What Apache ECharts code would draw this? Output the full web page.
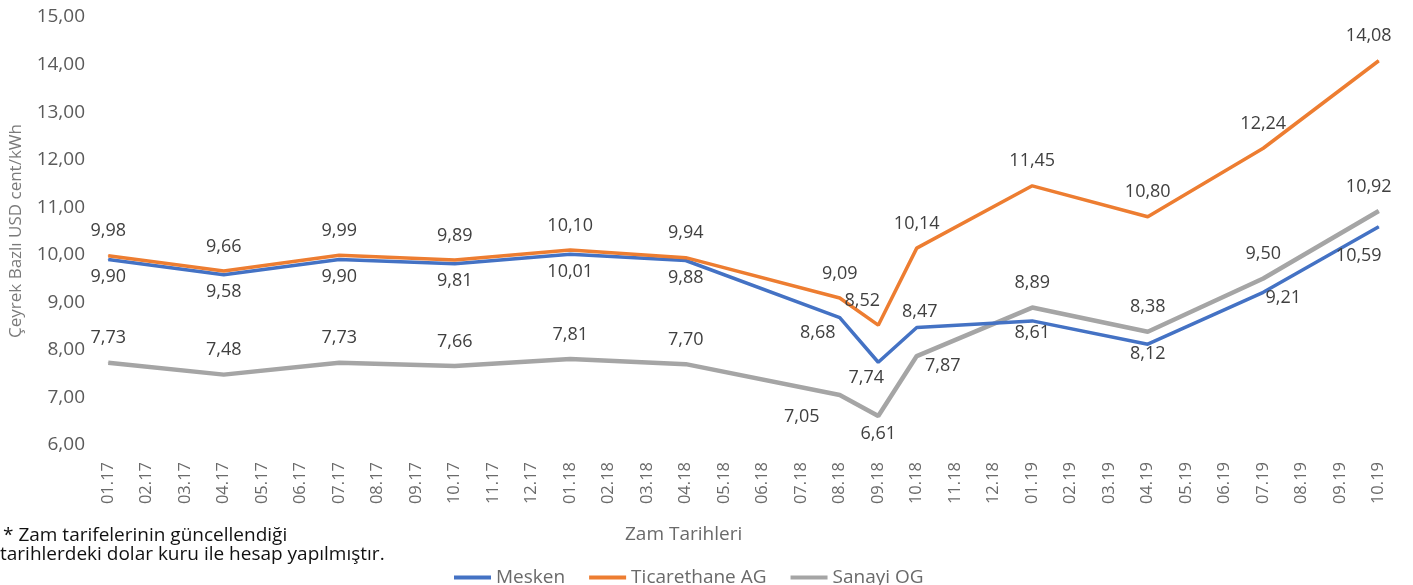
<!DOCTYPE html>
<html><head><meta charset="utf-8">
<script src="https://cdn.jsdelivr.net/npm/echarts@6/dist/echarts.min.js"></script>
<style>html,body{margin:0;padding:0;background:#fff}#c{width:1413px;height:585px}</style>
</head><body><div id="c"></div>
<script>
const categories = ['01.17','02.17','03.17','04.17','05.17','06.17','07.17','08.17','09.17','10.17','11.17','12.17',
  '01.18','02.18','03.18','04.18','05.18','06.18','07.18','08.18','09.18','10.18','11.18','12.18',
  '01.19','02.19','03.19','04.19','05.19','06.19','07.19','08.19','09.19','10.19'];
const mesken = [9.90,null,null,9.58,null,null,9.90,null,null,9.81,null,null,
  10.01,null,null,9.88,null,null,null,8.68,7.74,8.47,null,null,
  8.61,null,null,8.12,null,null,9.21,null,null,10.59];
const ticarethane = [9.98,null,null,9.66,null,null,9.99,null,null,9.89,null,null,
  10.10,null,null,9.94,null,null,null,9.09,8.52,10.14,null,null,
  11.45,null,null,10.80,null,null,12.24,null,null,14.08];
const sanayi = [7.73,null,null,7.48,null,null,7.73,null,null,7.66,null,null,
  7.81,null,null,7.70,null,null,null,7.05,6.61,7.87,null,null,
  8.89,null,null,8.38,null,null,9.50,null,null,10.92];
const yTicks = {min: 6, max: 15, interval: 1};

// label placement tweaks (style only)
const labelTweaks = {
  mesken: {19: {position: 'bottom', offset: [-22, -2]}, 20: {position: 'bottom', offset: [-12, -2]},
           21: {position: 'top', distance: 6, offset: [3, 0]}, 24: {position: 'bottom', distance: 2},
           27: {position: 'bottom', distance: 0}, 30: {position: 'bottom', distance: 0, offset: [20, -4]},
           33: {position: 'bottom', distance: 20, offset: [-20, 0]}},
  ticarethane: {20: {position: 'top', offset: [-16, 0]}, 33: {position: 'top', offset: [-10, 0]}},
  sanayi: {19: {position: 'bottom', distance: 12, offset: [-38, 0]}, 20: {position: 'bottom', distance: 8},
           21: {position: 'bottom', distance: 2, offset: [26, -2]}, 33: {position: 'top', offset: [-10, 0]}}
};

const fmt = v => v.toFixed(2).replace('.', ',');
function build(arr, key) {
  return arr.map((v, i) => {
    if (v === null) return null;
    const t = labelTweaks[key][i];
    return t ? {value: v, label: t} : v;
  });
}
const FONT = 'Open Sans';
const labelBase = (pos, dist) => ({show: true, position: pos, distance: dist, color: '#404040',
  fontFamily: FONT, fontSize: 18, formatter: p => fmt(p.value)});

const chart = echarts.init(document.getElementById('c'), null, {renderer: 'canvas'});
chart.setOption({
  animation: false,
  textStyle: {fontFamily: FONT},
  grid: {left: 89, right: 15, top: 17, bottom: 140, containLabel: false},
  xAxis: {
    type: 'category', data: categories, boundaryGap: true,
    axisLine: {show: false}, axisTick: {show: false},
    axisLabel: {rotate: 90, interval: 0, color: '#6a6a6a', fontSize: 16.5, fontFamily: FONT, margin: 17}
  },
  yAxis: {
    type: 'value', min: yTicks.min, max: yTicks.max, interval: yTicks.interval,
    name: 'Çeyrek Bazlı USD cent/kWh', nameLocation: 'middle', nameGap: 64,
    nameTextStyle: {color: '#7a7a7a', fontSize: 17, fontFamily: FONT},
    axisLine: {show: false}, axisTick: {show: false}, splitLine: {show: false},
    axisLabel: {color: '#5a5a5a', fontSize: 19, fontFamily: FONT, margin: 4, formatter: v => fmt(v)}
  },
  legend: {
    left: 449, top: 563, itemWidth: 37, itemHeight: 4, itemGap: 24, icon: 'rect',
    textStyle: {color: '#6a6a6a', fontSize: 19, fontFamily: FONT},
    data: ['Mesken', 'Ticarethane AG', 'Sanayi OG']
  },
  graphic: [
    {type: 'text', left: 625, top: 525, style: {text: 'Zam Tarihleri', fill: '#6a6a6a', font: '19px "Open Sans"'}},
    {type: 'text', left: 3, top: 526, style: {text: '* Zam tarifelerinin güncellendiği', fill: '#111', font: '19px "Open Sans"'}},
    {type: 'text', left: 0, top: 545, style: {text: 'tarihlerdeki dolar kuru ile hesap yapılmıştır.', fill: '#111', font: '19px "Open Sans"'}}
  ],
  series: [
    {name: 'Sanayi OG', type: 'line', data: build(sanayi, 'sanayi'), connectNulls: true, z: 2,
     symbol: 'circle', symbolSize: 1, color: '#A5A5A5', lineStyle: {width: 4.5, color: '#A5A5A5'},
     label: labelBase('top', 15)},
    {name: 'Mesken', type: 'line', data: build(mesken, 'mesken'), connectNulls: true, z: 3,
     symbol: 'circle', symbolSize: 1, color: '#4472C4', lineStyle: {width: 3.5, color: '#4472C4'},
     label: labelBase('bottom', 8)},
    {name: 'Ticarethane AG', type: 'line', data: build(ticarethane, 'ticarethane'), connectNulls: true, z: 4,
     symbol: 'circle', symbolSize: 1, color: '#ED7D31', lineStyle: {width: 3.5, color: '#ED7D31'},
     label: labelBase('top', 15)}
  ]
});
</script></body></html>
